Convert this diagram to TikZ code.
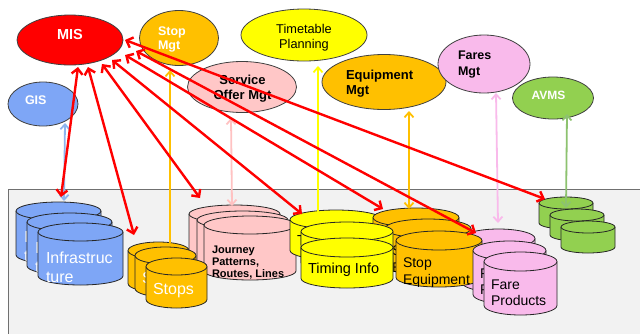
\documentclass[tikz,border=0pt]{standalone}
\usepackage{fontspec}
\setmainfont{Liberation Sans}
\usetikzlibrary{shapes.geometric,arrows.meta}

\definecolor{misred}{HTML}{FF0000}
\definecolor{orangeM}{HTML}{FFC000}
\definecolor{yellowM}{HTML}{FFFF00}
\definecolor{pinkS}{HTML}{FFC7C7}
\definecolor{blueG}{HTML}{7EA6F6}
\definecolor{pinkF}{HTML}{F9BAEB}
\definecolor{greenA}{HTML}{92D050}
\definecolor{boxgray}{HTML}{F2F2F2}
\definecolor{boxline}{HTML}{707070}
\definecolor{edgec}{HTML}{404040}
\definecolor{bluearr}{HTML}{8EB4EE}
\definecolor{pinkarr}{HTML}{FFC2C2}
\definecolor{greenarr}{HTML}{8DC26F}

% #1 name, #2 left, #3 top, #4 width, #5 height, #6 ry, #7 group style, #8 text offset, #9 text
\newcommand{\dbc}[9]{%
  \node[inner sep=0pt, outer sep=0pt, minimum width=#4pt, minimum height=#5pt, anchor=north west] (#1) at (#2,#3) {};
  \pgfmathsetmacro{\dbrx}{#4/2}%
  \filldraw[#7 cyl] (#2,#3+#6) -- (#2,#3+#5-#6)
     arc[start angle=180, end angle=360, x radius=\dbrx pt, y radius=#6pt]
     -- (#2+#4,#3+#6)
     arc[start angle=0, end angle=180, x radius=\dbrx pt, y radius=#6pt] -- cycle;
  \draw[#7 cyl] (#2,#3+#6) arc[start angle=180, end angle=360, x radius=\dbrx pt, y radius=#6pt];
  \node[#7 txt, anchor=base west] at ([shift={(#8)}]#1.north west) {#9};
}

\tikzset{
  cylbase/.style={draw=black!85, line width=0.8pt},
  txtbase/.style={inner sep=0pt, outer sep=0pt, align=left},
  infra cyl/.style={cylbase, fill=blueG},
  infra txt/.style={txtbase, text=white, font=\fontsize{16}{19}\selectfont},
  stops cyl/.style={cylbase, fill=orangeM},
  stops txt/.style={txtbase, text=white, font=\fontsize{16}{19}\selectfont},
  journey cyl/.style={cylbase, fill=pinkS},
  journey txt/.style={txtbase, text=black, font=\bfseries\fontsize{11}{12}\selectfont},
  timing cyl/.style={cylbase, fill=yellowM},
  timing txt/.style={txtbase, text=black, font=\fontsize{14.5}{17}\selectfont},
  equip cyl/.style={cylbase, fill=orangeM},
  equip txt/.style={txtbase, text=black, font=\fontsize{14}{17}\selectfont},
  fare cyl/.style={cylbase, fill=pinkF},
  fare txt/.style={txtbase, text=black, font=\fontsize{14}{16}\selectfont},
  avl cyl/.style={cylbase, fill=greenA},
  avl txt/.style={txtbase},
  mgt/.style={ellipse, inner sep=0pt, outer sep=0pt, draw=edgec, line width=0.8pt},
  mlbl/.style={inner sep=0pt, outer sep=0pt, font=\bfseries\fontsize{12.5}{14.5}\selectfont},
  redarr/.style={draw=misred, line width=2.4pt,
     arrows={Straight Barb[length=5.5pt,width=11pt]-Straight Barb[length=5.5pt,width=11pt]}},
  colarr/.style={line width=1.8pt,
     arrows={Straight Barb[length=5pt,width=9pt]-Straight Barb[length=5pt,width=9pt]}},
  uparr/.style={line width=1.8pt,
     arrows={-Straight Barb[length=5pt,width=9pt]}}
}

\begin{document}
\begin{tikzpicture}[x=1pt,y=-1pt]
\useasboundingbox (0,0) rectangle (640,333);
\clip (0,0) rectangle (640,333);
\fill[white] (0,0) rectangle (640,333);
\filldraw[fill=boxgray, draw=boxline, line width=0.9pt] (8,189) rectangle (660,350);

% ---- data stores ----
\dbc{b1}{16}{202}{85}{62}{9}{infra}{8,59}{Infrastruc\\ture}
\dbc{b2}{27}{213}{85}{62}{9}{infra}{8,59}{Infrastruc\\ture}
\dbc{b3}{38}{223}{85}{62}{9}{infra}{8,59}{Infrastruc\\ture}

\dbc{j1}{189}{205}{91}{64}{9}{journey}{8,61}{Journey\\Patterns,\\Routes, Lines}
\dbc{j2}{197}{211}{91}{64}{9}{journey}{8,61}{Journey\\Patterns,\\Routes, Lines}
\dbc{j3}{204}{216}{92}{64}{9}{journey}{8,61}{Journey\\Patterns,\\Routes, Lines}

\dbc{s1}{128}{242}{61}{50}{8.5}{stops}{7,36}{Stops}
\dbc{s2}{135}{247}{61}{50}{8.5}{stops}{7,36}{Stops}
\dbc{s3}{146}{258}{61}{50}{8.5}{stops}{7,36}{Stops}

\dbc{t1}{290}{210}{92}{50}{9.5}{timing}{7,35}{Timing Info}
\dbc{e1}{373}{208}{86}{56}{9.5}{equip}{7,53}{Stop\\Equipment}
\dbc{f1}{462}{229}{73}{63}{9.5}{fare}{7,53}{Fare\\Products}
\dbc{e2}{385}{219}{86}{56}{9.5}{equip}{7,53}{Stop\\Equipment}
\dbc{t2}{301}{222}{92}{50}{9.5}{timing}{7,35}{Timing Info}
\dbc{t3}{301}{238}{92}{50}{9.5}{timing}{7,35}{Timing Info}
\dbc{e3}{396}{231}{86}{56}{9.5}{equip}{7,53}{Stop\\Equipment}
\dbc{f2}{473}{241}{73}{63}{9.5}{fare}{7,53}{Fare\\Products}
\dbc{f3}{484}{252}{73}{63}{9.5}{fare}{7,53}{Fare\\Products}

\dbc{g1}{539}{197}{54}{32}{6}{avl}{0,0}{}
\dbc{g2}{550}{209}{54}{32}{6}{avl}{0,0}{}
\dbc{g3}{561}{221}{54}{32}{6}{avl}{0,0}{}

% ---- management systems ----
\node[mgt, fill=misred, minimum width=106pt, minimum height=50pt] (mis) at (70,40) {};
\node[mgt, fill=orangeM, minimum width=79pt, minimum height=55pt] (stopm) at (179,38) {};
\node[mgt, fill=yellowM, minimum width=126pt, minimum height=52pt] (ttp) at (304,35) {};
\node[mgt, fill=pinkS, minimum width=109pt, minimum height=51pt] (som) at (242,87) {};
\node[mgt, fill=blueG, minimum width=70pt, minimum height=44pt] (gis) at (43,104) {};
\node[mgt, fill=orangeM, minimum width=124pt, minimum height=55pt] (eqm) at (384,82) {};
\node[mgt, fill=pinkF, minimum width=92pt, minimum height=58pt] (farm) at (484,64) {};
\node[mgt, fill=greenA, minimum width=81pt, minimum height=42pt] (avms) at (553,98) {};

\node[mlbl, text=white, anchor=base, font=\bfseries\fontsize{14.5}{17}\selectfont] (mis-t) at ([shift={(0,-0.5)}]mis.center) {MIS};
\node[mlbl, text=white, anchor=base west, align=left] (stopm-t) at ([shift={(-21,11.5)}]stopm.center) {Stop\\Mgt};
\node[mlbl, text=black, anchor=base, align=center, font=\fontsize{12.75}{15}\selectfont] (ttp-t) at ([shift={(0,13)}]ttp.center) {Timetable\\Planning};
\node[mlbl, text=black, anchor=base, align=center, font=\bfseries\fontsize{13}{15}\selectfont] (som-t) at ([shift={(0.5,12)}]som.center) {Service\\Offer Mgt};
\node[mlbl, text=white, anchor=base west] (gis-t) at ([shift={(-18,0)}]gis.center) {GIS};
\node[mlbl, text=black, anchor=base west, align=left, font=\bfseries\fontsize{13}{15}\selectfont] (eqm-t) at ([shift={(-38,12)}]eqm.center) {Equipment\\Mgt};
\node[mlbl, text=black, anchor=base west, align=left, font=\bfseries\fontsize{12.5}{16}\selectfont] (farm-t) at ([shift={(-26,11)}]farm.center) {Fares\\Mgt};
\node[mlbl, text=white, anchor=base, font=\bfseries\fontsize{12}{14}\selectfont] (avms-t) at ([shift={(-4.5,1)}]avms.center) {AVMS};

% ---- coloured links ----
\draw[colarr, draw=bluearr] ([shift={(48,-1)}]b1.north west) -- ([shift={(22,19)}]gis.center);
\draw[uparr, draw=orangeM] ([shift={(42,1)}]s1.north west) -- ([shift={(-9,32)}]stopm.center);
\draw[uparr, draw=yellowM] ([shift={(28,2)}]t1.north west) -- ([shift={(14,31)}]ttp.center);
\draw[colarr, draw=pinkarr] ([shift={(43,1)}]j1.north west) -- ([shift={(-11,31)}]som.center);
\draw[colarr, draw=orangeM] ([shift={(36,1)}]e1.north west) -- ([shift={(25,29)}]eqm.center);
\draw[colarr, draw=pinkF] ([shift={(36,-6)}]f1.north west) -- ([shift={(12,29)}]farm.center);
\draw[colarr, draw=greenarr] ([shift={(27,11)}]g1.north west) -- ([shift={(14,16)}]avms.center);

% ---- MIS links ----
\draw[redarr] ([shift={(8,27)}]mis.center) -- ([shift={(45,-5)}]b1.north west);
\draw[redarr] ([shift={(18,27)}]mis.center) -- ([shift={(6,-7)}]s1.north west);
\draw[redarr] ([shift={(32,24)}]mis.center) -- ([shift={(11,-7)}]j1.north west);
\draw[redarr] ([shift={(42,20)}]mis.center) -- ([shift={(12,4)}]t1.north west);
\draw[redarr] ([shift={(55,15)}]mis.center) -- ([shift={(10,1)}]e1.north west);
\draw[redarr] ([shift={(66,11)}]mis.center) -- ([shift={(14,4)}]f1.north west);
\draw[redarr] ([shift={(55,0)}]mis.center) -- ([shift={(6,2)}]g1.north west);
\end{tikzpicture}
\end{document}
